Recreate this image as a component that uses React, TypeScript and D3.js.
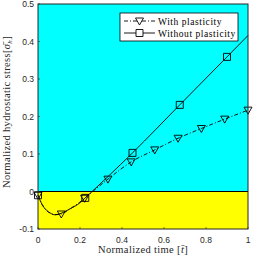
import React from 'react';
import * as d3 from 'd3';

// time axis samples for the two curves
const plastT = [0, 0.02, 0.04, 0.06, 0.08, 0.111, 0.15, 0.2, 0.222, 0.333, 0.444, 0.556, 0.667, 0.778, 0.889, 1.0];
const plastV = [-0.01, -0.035, -0.05, -0.058, -0.062, -0.06, -0.047, -0.028, -0.018, 0.033, 0.079, 0.111, 0.142, 0.168, 0.193, 0.217];
const plastMarkT = [0, 0.111, 0.222, 0.333, 0.444, 0.556, 0.667, 0.778, 0.889, 1.0];
const plastMarkV = [-0.01, -0.06, -0.018, 0.033, 0.079, 0.111, 0.142, 0.168, 0.193, 0.217];

const elastT = [0, 0.02, 0.04, 0.06, 0.08, 0.1, 0.15, 0.2, 0.225, 0.45, 0.675, 0.9, 1.0];
const elastV = [-0.01, -0.035, -0.05, -0.058, -0.062, -0.06, -0.047, -0.03, -0.017, 0.103, 0.231, 0.359, 0.416];
const elastMarkT = [0, 0.225, 0.45, 0.675, 0.9];
const elastMarkV = [-0.01, -0.017, 0.103, 0.231, 0.359];

const xTicks = [0, 0.2, 0.4, 0.6, 0.8, 1];
const yTicks = [-0.1, 0, 0.1, 0.2, 0.3, 0.4, 0.5];
const legendLabels = ['With plasticity', 'Without plasticity'];

const W = 254, H = 258;
const left = 38, right = 248, top = 4, bottom = 229;

export default function App() {
  const x = d3.scaleLinear().domain([0, 1]).range([left, right]);
  const y = d3.scaleLinear().domain([-0.1, 0.5]).range([bottom, top]);

  const line = d3.line<[number, number]>()
    .x(d => x(d[0]))
    .y(d => y(d[1]))
    .curve(d3.curveMonotoneX);

  const plastPts = plastT.map((t, i) => [t, plastV[i]] as [number, number]);
  const elastPts = elastT.map((t, i) => [t, elastV[i]] as [number, number]);

  const tri = (cx: number, cy: number) =>
    `M${cx - 4},${cy - 3}L${cx + 4},${cy - 3}L${cx},${cy + 4}Z`;
  const sq = (cx: number, cy: number) =>
    `M${cx - 3.5},${cy - 3.5}h7v7h-7Z`;

  const tickFont = { fontFamily: 'Liberation Sans, Arial, sans-serif', fontSize: 8.5, fill: '#262626' };
  const serif = { fontFamily: 'Liberation Serif, serif', fontSize: 10.5, fill: '#262626', letterSpacing: 0.35 };

  return (
    <svg width={W} height={H} style={{ position: 'absolute', left: 0, top: 0, background: '#fff' }}>
      <rect x={left} y={top} width={right - left} height={y(0) - top} fill="#00ffff" />
      <rect x={left} y={y(0)} width={right - left} height={bottom - y(0)} fill="#ffff00" />
      <line x1={left} x2={right} y1={y(0)} y2={y(0)} stroke="#000" strokeWidth={1} />

      <path d={line(elastPts) ?? ''} fill="none" stroke="#000" strokeWidth={0.9} />
      <path d={line(plastPts) ?? ''} fill="none" stroke="#000" strokeWidth={0.9} strokeDasharray="4,2,1,2" />

      {elastMarkT.map((t, i) => (
        <path key={'s' + i} d={sq(x(t), y(elastMarkV[i]))} fill="none" stroke="#000" strokeWidth={0.9} />
      ))}
      {plastMarkT.map((t, i) => (
        <path key={'t' + i} d={tri(x(t), y(plastMarkV[i]))} fill="none" stroke="#000" strokeWidth={0.9} />
      ))}

      <rect x={left} y={top} width={right - left} height={bottom - top} fill="none" stroke="#262626" strokeWidth={1} />

      {xTicks.map(t => (
        <g key={'x' + t}>
          <line x1={x(t)} x2={x(t)} y1={bottom} y2={bottom - 2} stroke="#262626" strokeWidth={0.6} />
          <text x={x(t)} y={243} textAnchor="middle" {...tickFont}>{t}</text>
        </g>
      ))}
      {yTicks.map(t => (
        <g key={'y' + t}>
          <line x1={left} x2={left + 2} y1={y(t)} y2={y(t)} stroke="#262626" strokeWidth={0.6} />
          <text x={34} y={y(t) + 3} textAnchor="end" {...tickFont}>{t}</text>
        </g>
      ))}

      <text x={143} y={253} textAnchor="middle" {...serif}>
        Normalized time [<tspan fontStyle="italic">t̄</tspan>]
      </text>
      <text transform={`translate(10,${112}) rotate(-90)`} textAnchor="middle" {...serif}>
        Normalized hydrostatic stress[<tspan fontStyle="italic">σ̄</tspan><tspan fontStyle="italic" fontSize={7} dy={2}>h</tspan><tspan dy={-2}>]</tspan>
      </text>

      <g>
        <rect x={120} y={13} width={118} height={28} fill="#fff" stroke="#000" strokeWidth={0.8} />
        <line x1={124} x2={155} y1={21} y2={21} stroke="#000" strokeWidth={0.9} strokeDasharray="4,2,1,2" />
        <path d={tri(139.5, 21)} fill="#fff" stroke="#000" strokeWidth={0.9} />
        <line x1={124} x2={155} y1={33} y2={33} stroke="#000" strokeWidth={0.9} />
        <path d={sq(139.5, 33)} fill="#fff" stroke="#000" strokeWidth={0.9} />
        <text x={158} y={24.5} {...serif} fontSize={9.5} letterSpacing={0.55} fill="#000">{legendLabels[0]}</text>
        <text x={158} y={36.5} {...serif} fontSize={9.5} letterSpacing={0.55} fill="#000">{legendLabels[1]}</text>
      </g>
    </svg>
  );
}
